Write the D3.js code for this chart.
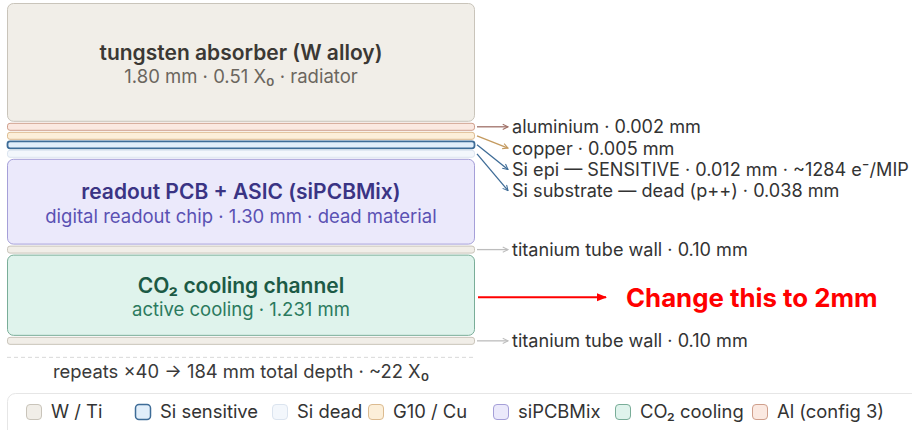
<!DOCTYPE html>
<html>
<head>
<meta charset="utf-8">
<script src="https://cdn.jsdelivr.net/npm/d3@7"></script>
<style>
  body { margin: 0; background: #fff; }
  svg { display: block; font-family: Inter, "Noto Sans", "DejaVu Sans", sans-serif; }
</style>
</head>
<body>
<div id="chart"></div>
<script>
/// Data

// one calorimeter layer, top to bottom
const layerThickness = [1.80, 0.002, 0.005, 0.012, 0.038, 1.30, 0.10, 1.231, 0.10]; // mm
const layerMaterial = ["wti", "al", "cu", "sisens", "sidead", "pcb", "wti", "co2", "wti"];
const layerTitle = ["tungsten absorber (W alloy)", "", "", "", "", "readout PCB + ASIC (siPCBMix)", "", "CO\u2082 cooling channel", ""];
const layerSubtitle = ["1.80 mm \u00b7 0.51 X\u2080 \u00b7 radiator", "", "", "", "",
  "digital readout chip \u00b7 1.30 mm \u00b7 dead material", "", "active cooling \u00b7 1.231 mm", ""];
const sideLabel = ["", "aluminium \u00b7 0.002 mm", "copper \u00b7 0.005 mm",
  "Si epi \u2014 SENSITIVE \u00b7 0.012 mm \u00b7 ~1284 e\u207b/MIP",
  "Si substrate \u2014 dead (p++) \u00b7 0.038 mm", "",
  "titanium tube wall \u00b7 0.10 mm", "", "titanium tube wall \u00b7 0.10 mm"];

const repeats = 40;
const totalDepth = 184; // mm
const totalX0 = 22;

const legendLabels = ["W / Ti", "Si sensitive", "Si dead", "G10 / Cu", "siPCBMix", "CO\u2082 cooling", "Al (config 3)"];
const legendMaterial = ["wti", "sisens", "sidead", "cu", "pcb", "co2", "al"];

const noteText = "Change this to 2mm";
const noteLayer = 7;

/// Styles
const fills = { wti: "#f1eee8", al: "#fbe9e1", cu: "#fcefd9", sisens: "#e1eefa", sidead: "#f3f7fc", pcb: "#ebe9fb", co2: "#dff3ec" };
const strokes = { wti: "#c9c4ba", al: "#cf9f8c", cu: "#dcbb90", sisens: "#3e6c97", sidead: "#dbe4ef", pcb: "#a59fd8", co2: "#79ad98" };
const arrowColor = { al: "#a07168", cu: "#c49a5f", sisens: "#3e6c97", sidead: "#3e6c97", wti: "#bdbdbd" };
const titleColor = { wti: "#3b3834", pcb: "#3a3484", co2: "#1c5a45" };
const subColor = { wti: "#6b665e", pcb: "#5a51b3", co2: "#2b7a5e" };

/// Geometry
const W = 912, H = 430;
const boxLeft = 7, boxRight = 475;
const stackTop = 3, gap = 1, minH = 8;
const labelX = 512, labelStep = 21.3;

var yScale = d3.scaleLinear().domain([0, 1]).range([0, 66]); // px per mm

var svg = d3.select("#chart").append("svg")
  .attr("width", W).attr("height", H);

var defs = svg.append("defs");

// stack layers
var layers = [];
var y = stackTop;
layerThickness.forEach(function (t, i) {
  var h = Math.max(minH, yScale(t));
  layers.push({ i: i, t: t, y: y, h: h, mat: layerMaterial[i] });
  y += h + gap;
});

// boxes
svg.selectAll("rect.layer")
  .data(layers)
  .join("rect")
  .attr("class", "layer")
  .attr("x", boxLeft + 0.5)
  .attr("y", function (d) { return d.y + 0.5; })
  .attr("width", boxRight - boxLeft - 1)
  .attr("height", function (d) { return d.h - 1; })
  .attr("rx", function (d) { return d.h > 30 ? 6 : 2.5; })
  .attr("fill", function (d) { return fills[d.mat]; })
  .attr("stroke", function (d) { return strokes[d.mat]; })
  .attr("stroke-width", function (d) { return d.mat == "sisens" ? 1.8 : 1; });

// titles inside thick layers
var cx = (boxLeft + boxRight) / 2;
var thick = layers.filter(function (d) { return layerTitle[d.i] != ""; });
svg.selectAll("text.title")
  .data(thick)
  .join("text")
  .attr("class", "title")
  .attr("x", cx)
  .attr("y", function (d) { return d.y + d.h / 2 - 2.5; })
  .attr("text-anchor", "middle")
  .attr("font-size", 21)
  .attr("font-weight", 600)
  .attr("fill", function (d) { return titleColor[d.mat]; })
  .text(function (d) { return layerTitle[d.i]; });

svg.selectAll("text.sub")
  .data(thick)
  .join("text")
  .attr("class", "sub")
  .attr("x", cx)
  .attr("y", function (d) { return d.y + d.h / 2 + 21; })
  .attr("text-anchor", "middle")
  .attr("font-size", 18.5)
  .attr("fill", function (d) { return subColor[d.mat]; })
  .text(function (d) { return layerSubtitle[d.i]; });

// side labels with leader arrows
var labelled = layers.filter(function (d) { return sideLabel[d.i] != ""; });
var lastY = -100;
labelled.forEach(function (d) {
  d.cy = d.y + d.h / 2;
  d.ly = Math.max(d.cy, lastY + labelStep);
  lastY = d.ly;
});

labelled.forEach(function (d) {
  defs.append("marker")
    .attr("id", "arr" + d.i)
    .attr("viewBox", "0 0 8 8")
    .attr("refX", 7).attr("refY", 4)
    .attr("markerWidth", 7).attr("markerHeight", 7)
    .attr("markerUnits", "userSpaceOnUse")
    .attr("orient", "auto")
    .append("path")
    .attr("d", "M1,1 L7,4 L1,7")
    .attr("fill", "none")
    .attr("stroke", arrowColor[d.mat])
    .attr("stroke-width", 1.2);
});

svg.selectAll("line.leader")
  .data(labelled)
  .join("line")
  .attr("class", "leader")
  .attr("x1", boxRight + 2)
  .attr("y1", function (d) { return d.cy; })
  .attr("x2", labelX - 4)
  .attr("y2", function (d) { return d.ly; })
  .attr("stroke", function (d) { return arrowColor[d.mat]; })
  .attr("stroke-width", 1.3)
  .attr("marker-end", function (d) { return "url(#arr" + d.i + ")"; });

svg.selectAll("text.side")
  .data(labelled)
  .join("text")
  .attr("class", "side")
  .attr("x", labelX)
  .attr("y", function (d) { return d.ly; })
  .attr("dy", "0.36em")
  .attr("font-size", 18.1)
  .attr("fill", "#333")
  .text(function (d) { return sideLabel[d.i]; });

// red annotation
var note = layers[noteLayer];
var noteY = note.y + note.h / 2 + 2;
defs.append("marker")
  .attr("id", "redArr")
  .attr("viewBox", "0 0 10 10")
  .attr("refX", 9).attr("refY", 5)
  .attr("markerWidth", 12).attr("markerHeight", 10)
  .attr("markerUnits", "userSpaceOnUse")
  .attr("orient", "auto")
  .append("path")
  .attr("d", "M0,1 L10,5 L0,9 Z")
  .attr("fill", "#f00");

svg.append("line")
  .attr("x1", boxRight + 3).attr("y1", noteY)
  .attr("x2", 606).attr("y2", noteY)
  .attr("stroke", "#f00")
  .attr("stroke-width", 2)
  .attr("marker-end", "url(#redArr)");

svg.append("text")
  .attr("x", 626)
  .attr("y", noteY)
  .attr("dy", "0.36em")
  .attr("font-size", 25.8)
  .attr("font-weight", 700)
  .attr("fill", "#f00")
  .text(noteText);

// dashed separator + repeat footnote
var stackBottom = layers[layers.length - 1].y + layers[layers.length - 1].h;
svg.append("line")
  .attr("x1", boxLeft).attr("x2", boxRight)
  .attr("y1", stackBottom + 12.5).attr("y2", stackBottom + 12.5)
  .attr("stroke", "#d9d9d9")
  .attr("stroke-dasharray", "4,3");

svg.append("text")
  .attr("x", cx)
  .attr("y", stackBottom + 33)
  .attr("text-anchor", "middle")
  .attr("font-size", 18.4)
  .attr("fill", "#3a3a3a")
  .text("repeats \u00d7" + repeats + " \u2192 " + totalDepth + " mm total depth \u00b7 ~" + totalX0 + " X\u2080");

// legend
var legendX = [26, 135, 272, 368, 493, 615, 752];
var legend = svg.append("g");
legend.append("rect")
  .attr("x", boxLeft + 0.5).attr("y", 393.5)
  .attr("width", 930).attr("height", 50)
  .attr("rx", 8)
  .attr("fill", "#fff")
  .attr("stroke", "#e6e6e6");

var item = legend.selectAll("g.item")
  .data(legendLabels)
  .join("g")
  .attr("class", "item")
  .attr("transform", function (d, i) { return "translate(" + legendX[i] + ",404)"; });

item.append("rect")
  .attr("x", 0.5).attr("y", 0.5)
  .attr("width", 15).attr("height", 15)
  .attr("rx", 3.5)
  .attr("fill", function (d, i) { return fills[legendMaterial[i]]; })
  .attr("stroke", function (d, i) { return strokes[legendMaterial[i]]; })
  .attr("stroke-width", function (d, i) { return legendMaterial[i] == "sisens" ? 1.5 : 1; });

item.append("text")
  .attr("x", 25)
  .attr("y", 7)
  .attr("dy", "0.36em")
  .attr("font-size", 18.4)
  .attr("fill", "#333")
  .text(function (d) { return d; });
</script>
</body>
</html>
